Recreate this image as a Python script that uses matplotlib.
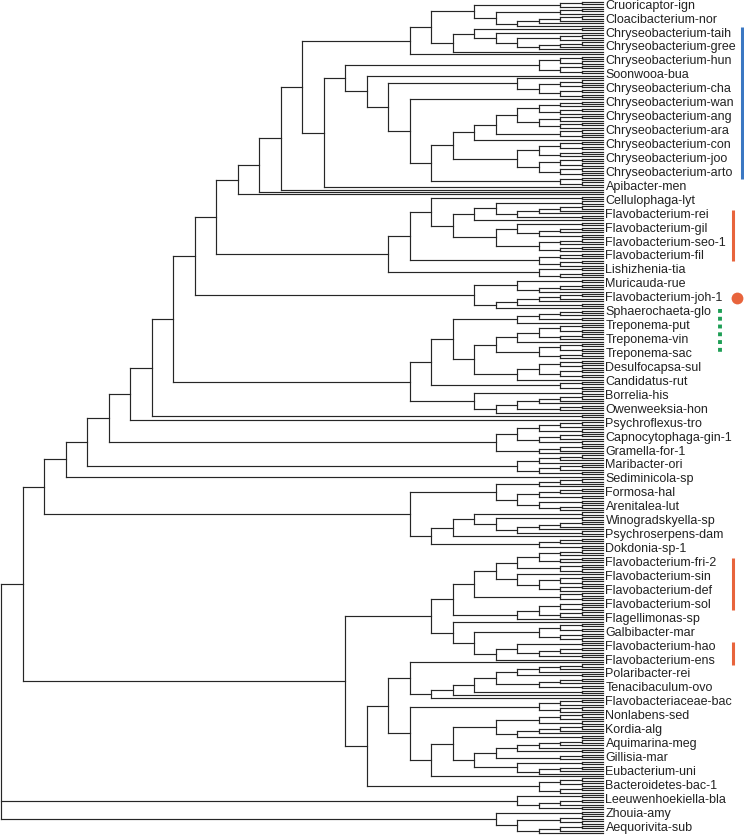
import matplotlib.pyplot as plt

# tip labels, top to bottom
labels = [
    "Cruoricaptor-ign", "Cloacibacterium-nor", "Chryseobacterium-taih",
    "Chryseobacterium-gree", "Chryseobacterium-hun", "Soonwooa-bua",
    "Chryseobacterium-cha", "Chryseobacterium-wan", "Chryseobacterium-ang",
    "Chryseobacterium-ara", "Chryseobacterium-con", "Chryseobacterium-joo",
    "Chryseobacterium-arto", "Apibacter-men", "Cellulophaga-lyt",
    "Flavobacterium-rei", "Flavobacterium-gil", "Flavobacterium-seo-1",
    "Flavobacterium-fil", "Lishizhenia-tia", "Muricauda-rue",
    "Flavobacterium-joh-1", "Sphaerochaeta-glo", "Treponema-put",
    "Treponema-vin", "Treponema-sac", "Desulfocapsa-sul", "Candidatus-rut",
    "Borrelia-his", "Owenweeksia-hon", "Psychroflexus-tro",
    "Capnocytophaga-gin-1", "Gramella-for-1", "Maribacter-ori",
    "Sediminicola-sp", "Formosa-hal", "Arenitalea-lut", "Winogradskyella-sp",
    "Psychroserpens-dam", "Dokdonia-sp-1", "Flavobacterium-fri-2",
    "Flavobacterium-sin", "Flavobacterium-def", "Flavobacterium-sol",
    "Flagellimonas-sp", "Galbibacter-mar", "Flavobacterium-hao",
    "Flavobacterium-ens", "Polaribacter-rei", "Tenacibaculum-ovo",
    "Flavobacteriaceae-bac", "Nonlabens-sed", "Kordia-alg", "Aquimarina-meg",
    "Gillisia-mar", "Eubacterium-uni", "Bacteroidetes-bac-1",
    "Leeuwenhoekiella-bla", "Zhouia-amy", "Aequorivita-sub",
]

# side marks: (first label, last label)
blue_bar = (2, 12)
orange_bars = [(15, 18), (40, 43), (46, 47)]
green_dots = (22, 25)
orange_dot = 21

# ---- topology, nested brackets, '.' = tip ----
# Chryseobacterium block
t6a = "(((.,.),.),(((.,.),.),((((.,.),.),.),.)))"
v6a = "((.,.),(.,(((.,.),.),(((.,.),.),.))))"
hun3 = "(((.,.),(.,.)),((.,.),(.,.)))"
cha4 = "(.,(((.,.),(.,.)),((.,.),(.,.))))"
wanang4 = "((((.,.),.),((.,.),.)),(((.,.),.),((.,.),.)))"
ara2 = "((.,.),(.,.))"
conjoo4 = "((((.,.),(.,.)),((.,.),.)),(((.,.),(.,.)),((.,.),(.,.))))"
arto2 = "((.,.),(.,.))"
n13 = f"(({hun3},(.,({cha4},(.,(((({wanang4},{ara2}),.),{conjoo4}),{arto2}))))),.)"
n14 = f"((({t6a},({v6a},.)),.),{n13})"
c17 = f"((({n14},.),.),.)"

# Flavobacterium (rei..fil) block
rei4 = "((((.,.),.),.),(.,.))"
gil4 = "((.,.),(((.,.),.),(.,.)))"
seo3 = "(((.,.),.),((.,.),.))"
fil3 = "(((.,.),.),((.,.),.))"
lish3 = "((.,.),((.,.),.))"
p10 = f"((((.,.),((((.,.),{rei4}),.),({gil4},{seo3}))),{fil3}),{lish3})"
muri6 = "(((.,.),(((.,.),.),.)),(((((.,.),.),.),(.,.)),.))"
e19 = f"(({c17},{p10}),{muri6})"

# Treponema block
sph4 = "((((.,.),.),(.,.)),.)"
t4 = "((((.,.),(.,.)),((.,.),.)),.)"
t3 = "(((.,.),(.,.)),((.,.),.))"
desulf4 = "((((.,.),(.,.)),((.,.),(.,.))),.)"
cand2 = "((.,.),(.,.))"
bor6 = "((.,.),(((((.,.),.),.),((.,.),.)),.))"
tre9 = f"((({sph4},(({t4},{t3}),{desulf4})),{cand2}),{bor6})"

psycap5 = "(((((.,.),.),(.,.)),(((.,.),.),(.,.))),(((.,.),.),.))"
grammari4 = "((((.,.),.),.),(((.,.),.),(.,.)))"
k25 = f"(((((({e19},{tre9}),(.,.)),.),{psycap5}),{grammari4}),.)"

# Sediminicola block
sed5a = "((((.,.),.),.),((((.,.),.),(.,.)),((.,.),((.,.),.))))"
sed6 = "((.,.),((.,.),((((.,.),.),.),(.,.))))"
dok3 = "(((.,.),.),(.,.))"
l26 = f"({k25},({sed5a},(({sed6},.),{dok3})))"

# lower Flavobacterium block
fri3 = "(((.,.),.),((.,.),.))"
fri2 = "((.,.),(.,.))"
sin3 = "(((.,.),(.,.)),((.,.),.))"
sol2 = "((.,.),(.,.))"
flag3 = "(((.,.),(.,.)),((.,.),.))"
galb3 = "(((.,.),(.,.)),((.,.),(.,.)))"
hao4 = "((.,.),(((.,.),.),(.,.)))"
fla8 = (f"((((({fri3},{fri2}),(.,{sin3})),{sol2}),({flag3},.)),"
        f"(.,({galb3},({hao4},.))))")

# Polaribacter .. Bacteroidetes block
pol5 = "(((((.,.),.),.),(.,.)),(((.,.),.),(.,.)))"
nonl3 = "(((.,.),.),((.,.),.))"
kor5 = "((((.,.),.),(.,.)),((((.,.),.),.),(.,.)))"
aqu5 = "(((((.,.),.),.),(.,.)),((.,.),.))"
gil4b = "((.,.),(((.,.),.),.))"
bact3 = "(((.,.),(.,.)),((.,.),.))"
big2 = (f"({fla8},(((.,((({pol5},(.,.)),.),.)),"
        f"({nonl3},(({kor5},({aqu5},{gil4b})),.))),{bact3}))")

leeu4 = "((.,.),(((.,.),.),(.,.)))"
zhou5 = "((.,.),(((.,.),(.,.)),(((.,.),.),.)))"
tree = f"(({l26},{big2}),{leeu4},{zhou5})"


def parse(s):
    pos = 0

    def node():
        nonlocal pos
        if s[pos] == "(":
            pos += 1
            kids = [node()]
            while s[pos] == ",":
                pos += 1
                kids.append(node())
            pos += 1
            return kids
        pos += 1
        return None

    return node()


hsegs, vsegs = [], []
ntip = [0]


def place(n):
    # x = number of steps to the deepest tip, y = tip order
    if n is None:
        ntip[0] += 1
        return 0, ntip[0] - 1
    kids = [place(c) for c in n]
    h = 1 + max(k[0] for k in kids)
    for kh, ky in kids:
        hsegs.append((ky, h, kh))
    vsegs.append((h, kids[0][1], kids[-1][1]))
    return h, (kids[0][1] + kids[-1][1]) / 2


place(parse(tree))
N = ntip[0]

fig = plt.figure(figsize=(7.44, 8.35), dpi=100)
ax = fig.add_axes([0, 0, 1, 1])
ax.axis("off")

step = 831 / (N - 1)      # pixels per tip
lev = 21.5                # pixels per level
ax.set_xlim(603 / lev, (603 - 744) / lev)
ax.set_ylim(833 / step, -2 / step)

col = "#262626"
ax.hlines([s[0] for s in hsegs], [s[1] for s in hsegs], [s[2] for s in hsegs],
          color=col, lw=0.85, capstyle="projecting")
ax.vlines([s[0] for s in vsegs], [s[1] for s in vsegs], [s[2] for s in vsegs],
          color=col, lw=0.85, capstyle="projecting")

gap = 822 / step / 59
lab_y = [3.7 / step + i * gap for i in range(len(labels))]
for y, t in zip(lab_y, labels):
    ax.text(-2.5 / lev, y, t, fontsize=9.0, family="Liberation Sans",
            color="#222222", va="center", ha="left")

ax.vlines((603 - 742) / lev, lab_y[blue_bar[0]] - 0.45 * gap,
          lab_y[blue_bar[1]] + 0.45 * gap, color="#3b78c3", lw=2.2)
for a, b in orange_bars:
    ax.vlines((603 - 733) / lev, lab_y[a] - 0.35 * gap, lab_y[b] + 0.35 * gap,
              color="#e8643c", lw=2.2)
ax.plot([(603 - 720) / lev] * 2,
        [lab_y[green_dots[0]] - 0.2 * gap, lab_y[green_dots[1]] + 0.1 * gap],
        color="#1e9e55", lw=2.8, linestyle=(0, (1, 1)))
ax.plot((603 - 737) / lev, lab_y[orange_dot], "o", color="#e8643c",
        markersize=8.5, markeredgewidth=0)

fig.savefig("out.png", dpi=100)
